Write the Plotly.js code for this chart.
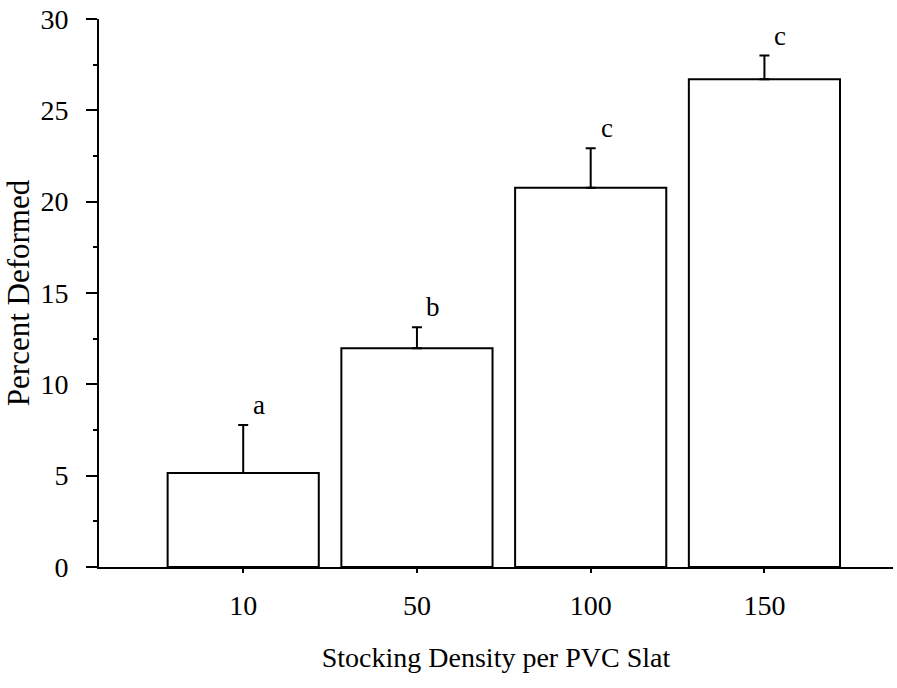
<!DOCTYPE html>
<html>
<head>
<meta charset="utf-8">
<script src="https://cdn.plot.ly/plotly-3.0.1.min.js"></script>
<style>html,body{margin:0;padding:0;background:#fff;}</style>
</head>
<body>
<div id="chart" style="width:897px;height:688px;"></div>
<script>
var categories = ['10', '50', '100', '150'];
var percentDeformed = [5.15, 11.97, 20.76, 26.7];
var stdError = [2.62, 1.15, 2.16, 1.3];
var groupLetters = ['a', 'b', 'c', 'c'];

var serif = 'Liberation Serif, Times New Roman, serif';

var trace = {
  type: 'bar',
  x: categories,
  y: percentDeformed,
  width: 0.87,
  marker: {color: '#ffffff', line: {color: '#000000', width: 2}},
  error_y: {type: 'data', array: stdError, symmetric: false, arrayminus: [0,0,0,0],
            color: '#000000', thickness: 2, width: 5},
  hoverinfo: 'none'
};

var annotations = categories.map(function (c, i) {
  return {
    x: i, y: percentDeformed[i] + stdError[i],
    xref: 'x', yref: 'y',
    text: groupLetters[i],
    showarrow: false,
    xanchor: 'center', yanchor: 'middle',
    xshift: 16, yshift: 20,
    font: {family: serif, size: 27, color: '#000'}
  };
});

var layout = {
  width: 897, height: 688,
  margin: {l: 99, r: 4, t: 19, b: 121},
  paper_bgcolor: '#fff', plot_bgcolor: '#fff',
  showlegend: false,
  font: {family: serif, size: 28, color: '#000'},
  xaxis: {
    type: 'category',
    range: [-0.83, 3.74],
    showline: true, linewidth: 2, linecolor: '#000',
    ticks: 'outside', ticklen: 4, tickwidth: 2, tickcolor: '#000',
    ticklabelstandoff: 8,
    showgrid: false, zeroline: false,
    tickfont: {family: serif, size: 28},
    title: {text: 'Stocking Density per PVC Slat', font: {family: serif, size: 28}, standoff: 28}
  },
  yaxis: {
    range: [0, 30],
    dtick: 5, tick0: 0,
    showline: true, linewidth: 2, linecolor: '#000',
    ticks: 'outside', ticklen: 11, tickwidth: 2, tickcolor: '#000',
    minor: {dtick: 2.5, ticks: 'outside', ticklen: 4, tickwidth: 2, tickcolor: '#000', showgrid: false},
    ticklabelstandoff: 12,
    showgrid: false, zeroline: false,
    tickfont: {family: serif, size: 28},
    title: {text: 'Percent Deformed', font: {family: serif, size: 31}, standoff: 2}
  },
  annotations: annotations
};

Plotly.newPlot('chart', [trace], layout, {staticPlot: true, displayModeBar: false});
</script>
</body>
</html>
